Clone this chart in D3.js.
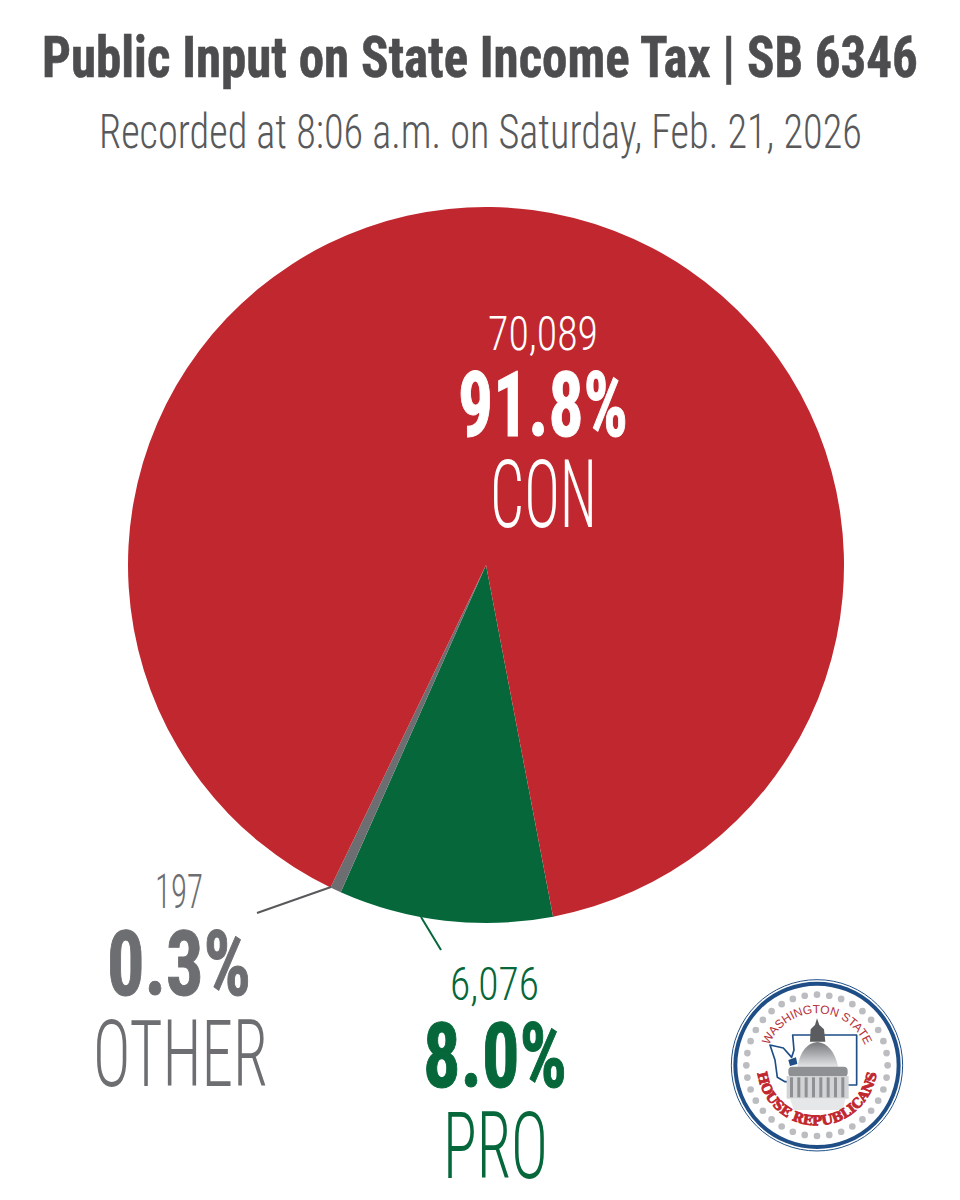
<!DOCTYPE html>
<html><head><meta charset="utf-8"><style>html,body{margin:0;padding:0;background:#fff}svg{display:block}</style>
<script src="https://cdn.jsdelivr.net/npm/d3@7"></script></head><body><svg id="c" width="960" height="1200"></svg>
<script>
const categories=["PRO","OTHER","CON"];
const countLabels=["6,076","197","70,089"];
const percentLabels=["8.0%","0.3%","91.8%"];
// Wedge sizes as drawn in the picture (the reference's wedges differ slightly from its printed percentages)
const drawnShares=[9.65,0.5,89.85];
const colors=["#05673a","#6d6e71","#c1272f"];
const titleText="Public Input on State Income Tax | SB 6346";
const subtitleText="Recorded at 8:06 a.m. on Saturday, Feb. 21, 2026";
const svg=d3.select("#c");
const font="'Roboto Condensed','Liberation Sans Narrow',sans-serif";
function fit(x0,x1,y,s,size,w,fill,sw){
 const el=svg.append("text").attr("font-family",font).attr("font-size",size).attr("font-weight",w).attr("fill",fill).text(s);
 if(sw) el.attr("stroke",fill).attr("stroke-width",sw);
 const len=el.node().getComputedTextLength();
 el.attr("transform",`translate(${x0},${y}) scale(${(x1-x0)/len},1)`);
 return el;
}
fit(42,918,77,titleText,58,700,"#4d4d4f",0.6);
fit(99,862,148,subtitleText,49,300,"#58595b");
const cx=486,cy=565,R=358;
const start=169.2*Math.PI/180;
const pie=d3.pie().sort(null).value(d=>d).startAngle(start).endAngle(start+2*Math.PI);
const arc=d3.arc().innerRadius(0).outerRadius(R);
svg.append("g").attr("transform",`translate(${cx},${cy})`).selectAll("path").data(pie(drawnShares)).join("path").attr("d",arc).attr("fill",(d,i)=>colors[i]);
const line=d3.line();
svg.append("path").attr("d",line([[257,913],[331,887]])).attr("stroke","#58595b").attr("stroke-width",2).attr("fill","none");
svg.append("path").attr("d",line([[421,917],[441,950]])).attr("stroke",colors[0]).attr("stroke-width",2).attr("fill","none");
// CON
fit(488,598,350,countLabels[2],48,300,"#fff");
fit(458,628,436,percentLabels[2],90,700,"#fff",1);
fit(490,597,527,categories[2],95,300,"#fff");
// OTHER
fit(155,203,908,countLabels[1],48,300,colors[1]);
fit(107,251,995,percentLabels[1],90,700,colors[1],1);
fit(93,268,1086,categories[1],93,300,colors[1]);
// PRO
fit(450,539,1000,countLabels[0],47,300,colors[0]);
fit(423,567,1087,percentLabels[0],90,700,colors[0],1);
fit(443,548,1178,categories[0],93,300,colors[0]);
// Logo, drawn in the zoom crop's 3x coordinate space
const navy="#1f4e86",lred="#b5303a";
const defs=svg.append("defs");
const g1=defs.append("linearGradient").attr("id","dome").attr("x1",0).attr("y1",0).attr("x2",0).attr("y2",1);
g1.append("stop").attr("offset",0).attr("stop-color","#77787b");
g1.append("stop").attr("offset",0.45).attr("stop-color","#a7a9ac");
g1.append("stop").attr("offset",1).attr("stop-color","#e6e7e8");
defs.append("path").attr("id","topArc").attr("d","M 135 286 A 156 156 0 0 1 447 286");
defs.append("path").attr("id","botArc").attr("d","M 111 286 A 180 180 0 0 0 471 286");
const L=svg.append("g").attr("transform","translate(720,970) scale(0.3333)");
L.append("circle").attr("cx",291).attr("cy",286).attr("r",257).attr("fill","#fff").attr("stroke",navy).attr("stroke-width",3);
L.append("circle").attr("cx",291).attr("cy",286).attr("r",245).attr("fill","#fff").attr("stroke",navy).attr("stroke-width",12);
const dotAngles=d3.range(36).map(i=>i*10);
L.append("g").selectAll("circle").data(dotAngles).join("circle")
 .attr("cx",d=>291+212*Math.cos(d*Math.PI/180)).attr("cy",d=>286+212*Math.sin(d*Math.PI/180)).attr("r",10).attr("fill","#bcbdc0");
L.append("text").attr("font-family","'Liberation Sans',sans-serif").attr("font-size",36).attr("fill",lred).append("textPath").attr("href","#topArc").attr("startOffset","50%").attr("text-anchor","middle").text("WASHINGTON STATE");
L.append("path").attr("d","M150 225 L190 234 L215 262 L222 240 L218 195 L410 195 L410 345 L385 345 L330 345 L195 335 L172 322 L165 270 Z").attr("fill","#fff").attr("stroke",navy).attr("stroke-width",5).attr("stroke-linejoin","round");
L.append("path").attr("d","M205 270 L228 262 L232 282 L210 288 Z").attr("fill",navy);
L.append("path").attr("d","M291 145 L298 165 L312 178 L316 215 L270 215 L272 178 L285 165 Z").attr("fill","#5b5c5f");
L.append("path").attr("d","M232 292 C240 245 262 218 292 216 C322 218 345 245 355 292 Z").attr("fill","url(#dome)");
L.append("rect").attr("x",205).attr("y",290).attr("width",178).attr("height",30).attr("rx",12).attr("fill","#8f9093");
L.append("rect").attr("x",200).attr("y",318).attr("width",186).attr("height",68).attr("fill","#d1d3d4");
L.append("g").selectAll("rect").data(d3.range(210,385,22)).join("rect").attr("x",d=>d).attr("y",322).attr("width",9).attr("height",60).attr("fill","#8f9093");
L.append("path").attr("d","M210 386 L376 386 L368 420 L222 420 Z").attr("fill","#e6e7e8");
L.append("text").attr("font-family","'DejaVu Serif',serif").attr("font-weight",900).attr("font-size",40).attr("fill","#c1272f").attr("stroke","#c1272f").attr("stroke-width",2.5).append("textPath").attr("href","#botArc").attr("startOffset","50%").attr("text-anchor","middle").text("HOUSE REPUBLICANS");
</script></body></html>
